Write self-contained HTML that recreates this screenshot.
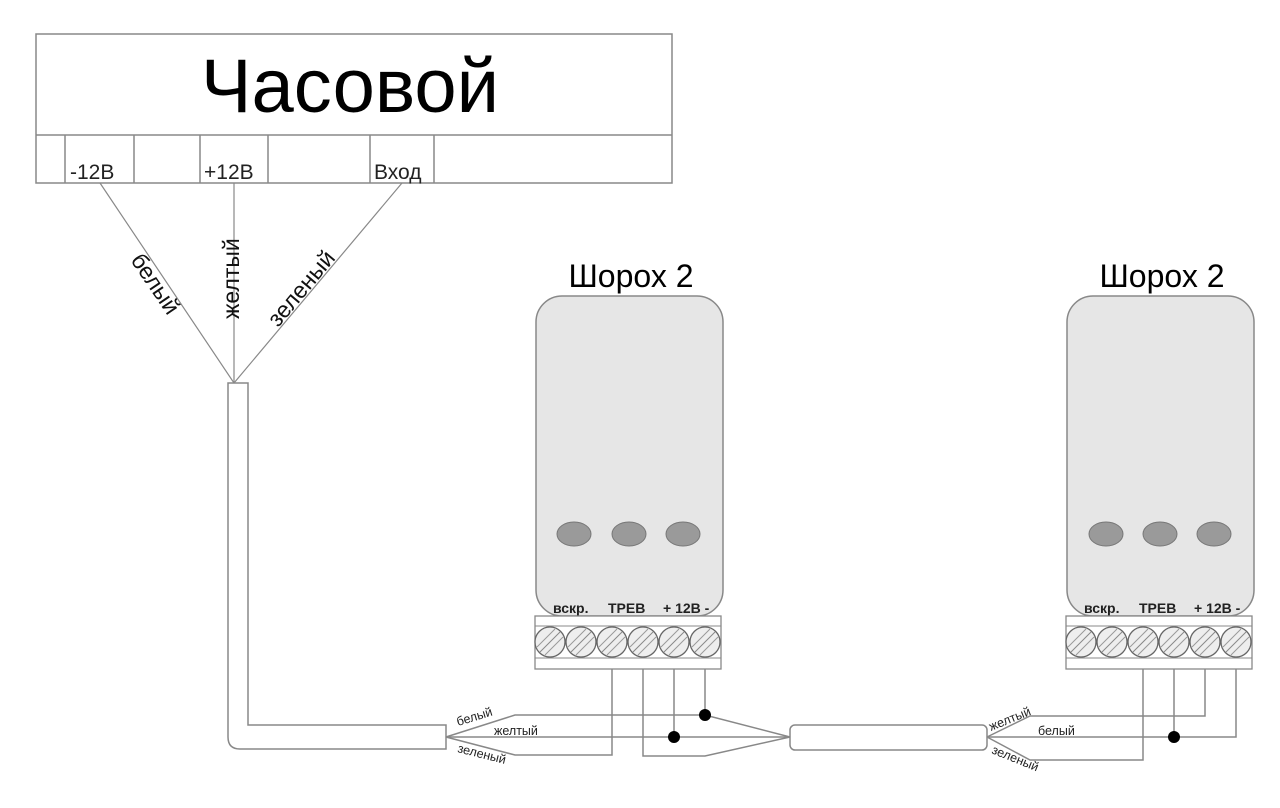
<!DOCTYPE html>
<html><head><meta charset="utf-8"><style>body{margin:0;background:#fff}svg{display:block}</style></head><body>
<svg width="1280" height="808" viewBox="0 0 1280 808" xmlns="http://www.w3.org/2000/svg" font-family="Liberation Sans, DejaVu Sans, sans-serif">
<defs>
<g id="screw"><circle r="15" fill="#eee" stroke="#666" stroke-width="1.3"/><line x1="-10" y1="10" x2="10" y2="-10" stroke="#888" stroke-width="1"/><line x1="-13" y1="5" x2="5" y2="-13" stroke="#999" stroke-width="1"/><line x1="-5" y1="13" x2="13" y2="-5" stroke="#999" stroke-width="1"/></g>
</defs>
<g stroke="#888" stroke-width="1.5" fill="none">
<rect x="36" y="34" width="636" height="149"/>
<line x1="36" y1="135" x2="672" y2="135"/>
<line x1="65" y1="135" x2="65" y2="183"/><line x1="134" y1="135" x2="134" y2="183"/>
<line x1="200" y1="135" x2="200" y2="183"/><line x1="268" y1="135" x2="268" y2="183"/>
<line x1="370" y1="135" x2="370" y2="183"/><line x1="434" y1="135" x2="434" y2="183"/>
</g>
<text x="350" y="112" font-size="76" text-anchor="middle" fill="#000">Часовой</text>
<g font-size="21" fill="#222"><text x="70" y="179">-12В</text><text x="204" y="179">+12В</text><text x="374" y="179">Вход</text></g>
<g stroke="#888" stroke-width="1.2" fill="none">
<line x1="100" y1="183" x2="234" y2="383"/><line x1="234" y1="183" x2="234" y2="383"/><line x1="402" y1="183" x2="234" y2="383"/>
</g>
<g font-size="23" fill="#111">
<text transform="translate(130,260) rotate(56)">белый</text>
<text transform="translate(239,319) rotate(-90)">желтый</text>
<text transform="translate(278,328) rotate(-50)">зеленый</text>
</g>
<g stroke="#888" stroke-width="1.5" fill="none">
<path d="M228,383 H248 V725 H446 V749 H240 Q228,749 228,737 Z"/>
<rect x="790" y="725" width="197" height="25" rx="5"/>
<path d="M446,737 L515,715 H705 L790,737"/>
<path d="M446,737 H790"/>
<path d="M446,737 L515,755 H612 V658"/>
<path d="M643,658 V756 H705 L790,737"/>
<line x1="674" y1="658" x2="674" y2="737"/>
<line x1="705" y1="658" x2="705" y2="715"/>
<path d="M987,737 L1030,716 H1205 V658"/>
<path d="M987,737 H1236 V658"/>
<line x1="1174" y1="658" x2="1174" y2="737"/>
<path d="M987,737 L1030,760 H1143 V658"/>
</g>
<g fill="#000"><circle cx="705" cy="715" r="6"/><circle cx="674" cy="737" r="6"/><circle cx="1174" cy="737" r="6"/></g>
<g font-size="12.5" fill="#222">
<text transform="translate(458,726) rotate(-17)">белый</text>
<text x="494" y="735">желтый</text>
<text transform="translate(457,752) rotate(14)">зеленый</text>
<text transform="translate(991,731) rotate(-22)">желтый</text>
<text x="1038" y="735">белый</text>
<text transform="translate(991,753) rotate(22)">зеленый</text>
</g>
<g>
<text x="631" y="287" font-size="32" text-anchor="middle">Шорох 2</text>
<rect x="536" y="296" width="187" height="320" rx="26" fill="#e6e6e6" stroke="#888" stroke-width="1.5"/>
<g fill="#9a9a9a" stroke="#777"><ellipse cx="574" cy="534" rx="17" ry="12"/><ellipse cx="629" cy="534" rx="17" ry="12"/><ellipse cx="683" cy="534" rx="17" ry="12"/></g>
<g font-size="14" fill="#222" font-weight="bold"><text x="553" y="613">вскр.</text><text x="608" y="613">ТРЕВ</text><text x="663" y="613">+ 12В -</text></g>
<rect x="535" y="616" width="186" height="53" fill="#fff" stroke="#888" stroke-width="1.3"/>
<line x1="535" y1="626" x2="721" y2="626" stroke="#888"/><line x1="535" y1="658" x2="721" y2="658" stroke="#888"/>
<use href="#screw" x="550" y="642"/><use href="#screw" x="581" y="642"/><use href="#screw" x="612" y="642"/><use href="#screw" x="643" y="642"/><use href="#screw" x="674" y="642"/><use href="#screw" x="705" y="642"/>
</g>
<g>
<text x="1162" y="287" font-size="32" text-anchor="middle">Шорох 2</text>
<rect x="1067" y="296" width="187" height="320" rx="26" fill="#e6e6e6" stroke="#888" stroke-width="1.5"/>
<g fill="#9a9a9a" stroke="#777"><ellipse cx="1106" cy="534" rx="17" ry="12"/><ellipse cx="1160" cy="534" rx="17" ry="12"/><ellipse cx="1214" cy="534" rx="17" ry="12"/></g>
<g font-size="14" fill="#222" font-weight="bold"><text x="1084" y="613">вскр.</text><text x="1139" y="613">ТРЕВ</text><text x="1194" y="613">+ 12В -</text></g>
<rect x="1066" y="616" width="186" height="53" fill="#fff" stroke="#888" stroke-width="1.3"/>
<line x1="1066" y1="626" x2="1252" y2="626" stroke="#888"/><line x1="1066" y1="658" x2="1252" y2="658" stroke="#888"/>
<use href="#screw" x="1081" y="642"/><use href="#screw" x="1112" y="642"/><use href="#screw" x="1143" y="642"/><use href="#screw" x="1174" y="642"/><use href="#screw" x="1205" y="642"/><use href="#screw" x="1236" y="642"/>
</g>
</svg>
</body></html>
